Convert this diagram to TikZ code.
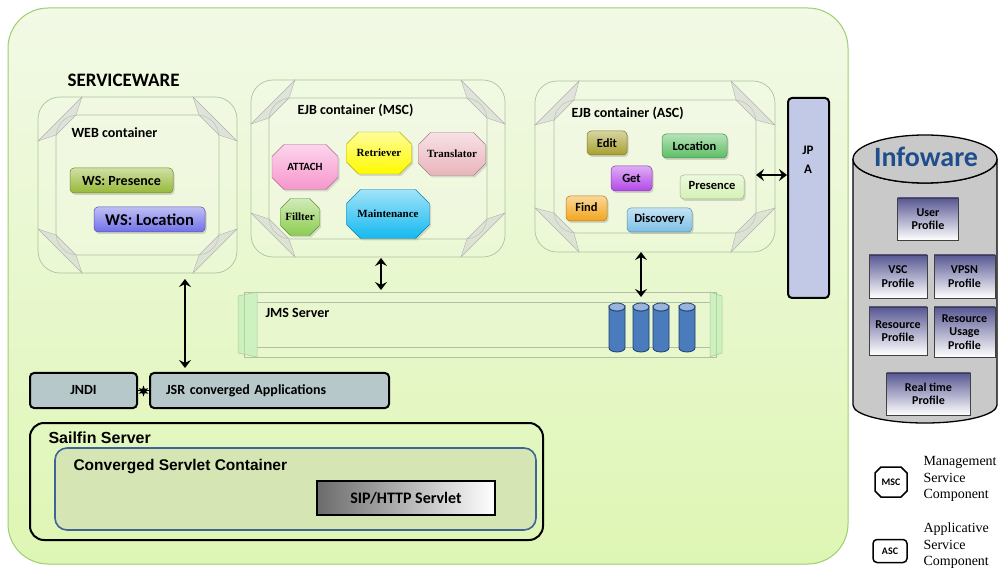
\documentclass[tikz,border=0pt]{standalone}
\usepackage{fontspec}
\setmainfont{Carlito}
\newfontfamily\arialf{Liberation Sans}
\newfontfamily\timesf{Liberation Serif}
\usetikzlibrary{shadows,arrows.meta,shapes.geometric}
\definecolor{bgtop}{RGB}{242,249,230}
\definecolor{bgbot}{RGB}{222,246,180}
\definecolor{bgline}{RGB}{160,205,110}
\definecolor{frmline}{RGB}{175,195,160}
\definecolor{wsP}{RGB}{150,185,55}
\definecolor{wsL}{RGB}{112,112,232}
\definecolor{cAttach}{RGB}{247,150,205}
\definecolor{cRetr}{RGB}{255,250,0}
\definecolor{cTrans}{RGB}{233,180,188}
\definecolor{cFill}{RGB}{140,205,80}
\definecolor{cMaint}{RGB}{20,185,240}
\definecolor{cEdit}{RGB}{167,160,46}
\definecolor{cLoc}{RGB}{92,190,99}
\definecolor{cGet}{RGB}{180,72,232}
\definecolor{cPres}{RGB}{212,242,180}
\definecolor{cFind}{RGB}{242,165,28}
\definecolor{cDisc}{RGB}{124,192,230}
\definecolor{jpaF}{RGB}{194,201,230}
\definecolor{appF}{RGB}{183,200,203}
\definecolor{convF}{RGB}{214,229,180}
\definecolor{convL}{RGB}{61,101,150}
\definecolor{infoT}{RGB}{31,78,140}
\definecolor{cylG}{RGB}{201,201,201}
\definecolor{profT}{RGB}{88,88,148}
\definecolor{mcB}{RGB}{74,123,189}
\definecolor{mcT}{RGB}{152,180,220}
\definecolor{mcL}{RGB}{31,61,106}
\newcommand{\fz}[2]{\fontsize{#1}{#2}\selectfont}
\newcommand{\bevframe}[5]{%
 \draw[frm] (#1,#2) rectangle (#3,#4);
 \draw[frm] ({#1+#5},{#2+#5}) rectangle ({#3-#5},{#4-#5});
 \filldraw[band] (#1,{#2+44}) -- ({#1+44},#2) -- ({#1+#5+20},{#2+#5}) -- ({#1+#5},{#2+#5+20}) -- cycle;
 \filldraw[band] (#3,{#2+44}) -- ({#3-44},#2) -- ({#3-#5-20},{#2+#5}) -- ({#3-#5},{#2+#5+20}) -- cycle;
 \filldraw[band] (#1,{#4-44}) -- ({#1+44},#4) -- ({#1+#5+20},{#4-#5}) -- ({#1+#5},{#4-#5-20}) -- cycle;
 \filldraw[band] (#3,{#4-44}) -- ({#3-44},#4) -- ({#3-#5-20},{#4-#5}) -- ({#3-#5},{#4-#5-20}) -- cycle;
}
\newcommand{\octo}[8]{%
 \path[#7] ({#2-#4/2+#6},{#3-#5/2}) -- ({#2+#4/2-#6},{#3-#5/2}) -- ({#2+#4/2},{#3-#5/2+#6}) -- ({#2+#4/2},{#3+#5/2-#6}) -- ({#2+#4/2-#6},{#3+#5/2}) -- ({#2-#4/2+#6},{#3+#5/2}) -- ({#2-#4/2},{#3+#5/2-#6}) -- ({#2-#4/2},{#3-#5/2+#6}) -- cycle;
 \node[inner sep=0] (#1) at (#2,#3) {#8};
}
\newcommand{\mcyl}[2]{%
 \filldraw[fill=mcB, draw=mcL, line width=0.8] ({#2-8},307) -- ({#2-8},348) arc[start angle=180,end angle=0,x radius=8,y radius=4] -- ({#2+8},307) arc[start angle=0,end angle=180,x radius=8,y radius=4] -- cycle;
 \filldraw[fill=mcT, draw=mcL, line width=0.8] (#2,307) ellipse [x radius=8, y radius=4];
 \coordinate (#1) at (#2,303);
}
\begin{document}
\begin{tikzpicture}[x=1pt,y=-1pt,
 frm/.style={draw=frmline, line width=0.7pt, rounded corners=22pt, fill=white, fill opacity=0.12},
 band/.style={fill=gray!35, fill opacity=0.55, draw=gray!60, line width=0.4pt},
 btn/.style={rounded corners=4pt, top color=#1!45!white, bottom color=#1, draw=#1!75!black, line width=0.5pt,
   drop shadow={opacity=0.3, shadow xshift=1.5pt, shadow yshift=-2pt}, font=\bfseries\fz{12.5}{14}, inner sep=1pt},
 gem/.style={top color=#1!40!white, bottom color=#1, draw=#1!70!black, line width=0.4pt,
   drop shadow={opacity=0.25, shadow xshift=1.5pt, shadow yshift=-2pt}},
 dbl/.style={{Stealth[length=8pt,width=12pt,inset=3pt]}-{Stealth[length=8pt,width=12pt,inset=3pt]}, line width=2.6pt},
 appbox/.style={draw, line width=2pt, rounded corners=4pt, fill=appF, font=\bfseries\fz{14}{16}},
 prof/.style={draw=black!75, line width=0.6pt, top color=profT, bottom color=white, font=\bfseries\fz{12}{13.5}, align=center, inner sep=1pt},
 ttl/.style={anchor=west, font=\bfseries\fz{14}{16}}]
\useasboundingbox (0,0) rectangle (999,569);
% main serviceware panel
\draw[draw=bgline, line width=1pt, top color=bgtop, bottom color=bgbot, rounded corners=40pt] (8,8) rectangle (848,564);
\node[anchor=west, font=\bfseries\fz{19}{22}] (sw) at (64,80) {SERVICEWARE};
% WEB container
\bevframe{38}{97}{237}{273}{18}
\node[ttl] (webt) at (68,133) {WEB container};
\node[btn=wsP, minimum width=103, minimum height=25, font=\bfseries\fz{14}{16}] (wsp) at (121.5,180.5) {WS: Presence};
\node[btn=wsL, minimum width=111, minimum height=25, font=\bfseries\fz{16.5}{18}] (wsl) at (149.5,219.5) {WS: Location};
% EJB MSC
\bevframe{251}{80}{505}{257}{18}
\node[ttl] (msct) at (294,110) {EJB container (MSC)};
\octo{attach}{305}{167}{66}{45}{12}{gem=cAttach}{\bfseries\fz{11}{12}ATTACH}
\octo{retr}{379}{153}{65}{42}{12}{gem=cRetr}{\timesf\bfseries\fz{11}{12}Retriever}
\octo{trans}{452}{154}{67}{43}{12}{gem=cTrans}{\timesf\bfseries\fz{11}{12}Translator}
\octo{fillt}{300}{217}{39}{37}{10}{gem=cFill}{\timesf\bfseries\fz{11}{12}Fillter}
\octo{maint}{388}{214}{83}{49}{14}{gem=cMaint}{\timesf\bfseries\fz{11}{12}Maintenance}
% EJB ASC
\bevframe{535}{81}{775}{252}{19}
\node[ttl] (asct) at (568,113) {EJB container (ASC)};
\node[btn=cEdit, minimum width=40, minimum height=24] (edit) at (607,143) {Edit};
\node[btn=cLoc, minimum width=65, minimum height=24] (loc) at (694.5,146) {Location};
\node[btn=cGet, minimum width=41, minimum height=25] (get) at (631.5,178.5) {Get};
\node[btn=cPres, minimum width=64, minimum height=24] (pres) at (712,187) {\raisebox{3pt}{Presence}};
\node[btn=cFind, minimum width=41, minimum height=25] (find) at (586.5,208.5) {\raisebox{3pt}{Find}};
\node[btn=cDisc, minimum width=65, minimum height=24] (disc) at (659.5,220) {\raisebox{4pt}{Discovery}};
% JPA
\node[draw, line width=2pt, rounded corners=4pt, fill=jpaF, minimum width=41, minimum height=200] (jpa) at (808.5,198) {};
\node[align=center, font=\bfseries\fz{13}{19}] (jpat) at (808,160) {JP\\A};
% JMS server bar
\filldraw[draw=frmline, line width=0.6pt, fill=white, fill opacity=0.12] (244,292) rectangle (716,357);
\draw[frmline, line width=0.6pt] (257,302) -- (710,302) (257,347) -- (710,347);
\filldraw[draw=frmline, line width=0.5pt, fill=gray!40!green!40, fill opacity=0.45] (238,296) -- (257,292) -- (257,357) -- (238,353) -- cycle;
\filldraw[draw=frmline, line width=0.5pt, fill=gray!40!green!40, fill opacity=0.45] (710,292) -- (722,296) -- (722,353) -- (710,357) -- cycle;
\node[anchor=west, font=\bfseries\fz{14}{16}] (jms) at (262,313) {JMS Server};
\mcyl{cy1}{617}
\mcyl{cy2}{641}
\mcyl{cy3}{661}
\mcyl{cy4}{687}
% JNDI / JSR
\node[appbox, minimum width=107, minimum height=35] (jndi) at (83.5,390.5) {JNDI};
\node[appbox, minimum width=239, minimum height=35, text width=207, inner xsep=16pt, align=left] (jsr) at (269.5,390.5) {JSR converged Applications};
\draw[line width=1.5pt] (jndi.east) -- (jsr.west);
\node[star, star points=6, star point ratio=2.2, fill=black, minimum size=11pt, inner sep=0] (lnk) at (143.5,391) {};
% arrows
\coordinate (webB) at (185,279);
\draw[dbl, shorten >=4pt] (webB) -- (webB |- jsr.north);
\coordinate (mscB) at (381,258);
\coordinate (jmsT) at (381,290);
\draw[dbl] (mscB) -- (jmsT);
\coordinate (ascB) at (641,252);
\draw[dbl, shorten >=6pt] (ascB) -- (cy2);
\coordinate (ascR) at (756,175);
\draw[dbl] (ascR) -- (ascR -| jpa.west);
% Sailfin
\draw[line width=2pt, rounded corners=14pt] (30,423) rectangle (543,540);
\node[anchor=west, font=\arialf\bfseries\fz{16}{18}] (sail) at (45,438) {Sailfin Server};
\draw[draw=convL, line width=1.6pt, fill=convF, rounded corners=12pt] (55,448) rectangle (536,530);
\node[anchor=west, font=\arialf\bfseries\fz{15.5}{18}] (conv) at (70,467) {Converged Servlet Container};
\node[draw, line width=2pt, left color=black!58, right color=white, minimum width=178, minimum height=34, font=\bfseries\fz{16}{18}] (sip) at (406,498) {SIP/HTTP Servlet};
% Infoware
\filldraw[fill=cylG, draw=black, line width=1.3pt] (853,159) -- (853,405) arc[start angle=180,end angle=0,x radius=72,y radius=18] -- (997,159) arc[start angle=0,end angle=180,x radius=72,y radius=24] -- cycle;
\filldraw[fill=cylG, draw=black, line width=1.3pt] (925,159) ellipse [x radius=72, y radius=24];
\node[font=\bfseries\fz{28}{30}, text=infoT] (info) at (926,157) {Infoware};
\node[prof, minimum width=61, minimum height=42] (user) at (928,219) {User\\Profile};
\node[prof, minimum width=58, minimum height=43] (vsc) at (898,276.5) {VSC\\Profile};
\node[prof, minimum width=61, minimum height=43] (vpsn) at (964.5,276.5) {VPSN\\Profile};
\node[prof, minimum width=58, minimum height=48] (res) at (898,331) {Resource\\Profile};
\node[prof, minimum width=61, minimum height=50] (resu) at (964.5,332) {Resource\\Usage\\Profile};
\node[prof, minimum width=84, minimum height=42] (rt) at (928.5,394) {Real time\\Profile};
% legend
\path[draw, line width=1.5pt] (881,467) -- (901,467) -- (907,473) -- (907,491) -- (901,497) -- (881,497) -- (875,491) -- (875,473) -- cycle;
\node[font=\bfseries\fz{10}{11}] (lmsc) at (891,482) {MSC};
\node[anchor=west, align=left, font=\timesf\fz{14}{16.5}] (lmsct) at (920,479) {Management\\Service\\Component};
\node[draw, line width=1.5pt, rounded corners=4pt, minimum width=34, minimum height=23, font=\bfseries\fz{10}{11}] (lasc) at (890,551) {ASC};
\node[anchor=west, align=left, font=\timesf\fz{14}{16.5}] (lasct) at (920,546) {Applicative\\Service\\Component};
\end{tikzpicture}
\end{document}
